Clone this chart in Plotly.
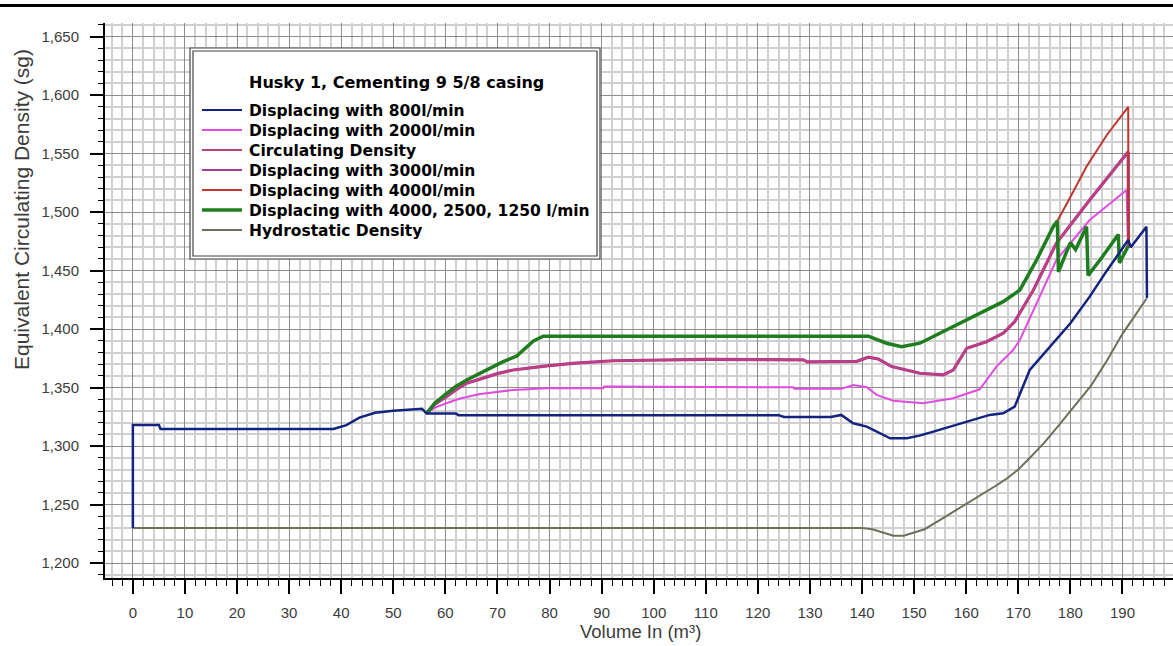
import plotly.graph_objects as go

# Volume (m3) / equivalent circulating density (sg)
vol_800 = [0, 0, 5.0, 5.3, 38.5, 41, 43.5, 46.5, 50, 54.5, 55.5, 56.4, 62, 62.5, 124, 125, 134, 136,
           138.3, 140.9, 143, 145.4, 148.6, 151, 153.7, 159.4, 164.5, 167.1, 169.3, 172.2, 176.7, 180,
           183.7, 187, 191.1, 191.6, 194.6, 194.7]
ecd_800 = [1.230, 1.318, 1.318, 1.3147, 1.3147, 1.318, 1.3244, 1.3286, 1.3303, 1.3315, 1.332, 1.328,
           1.328, 1.3265, 1.3265, 1.325, 1.325, 1.3267, 1.3196, 1.3167, 1.312, 1.3067, 1.3067, 1.309,
           1.3124, 1.3196, 1.3267, 1.3281, 1.3338, 1.3651, 1.388, 1.405, 1.4278, 1.450, 1.4762, 1.470,
           1.4876, 1.4264]

vol_2000 = [56.4, 58, 60.2, 63, 66.7, 70, 73, 79.5, 90.3, 90.5, 126.8, 127, 136, 138.3, 140.9, 142.8,
            146, 151.7, 157.5, 162.6, 165.8, 169, 170.3, 177.3, 183.7, 190.8, 191.1]
ecd_2000 = [1.328, 1.333, 1.3367, 1.341, 1.3446, 1.3465, 1.348, 1.3495, 1.3495, 1.351, 1.3503, 1.349,
            1.349, 1.3523, 1.3503, 1.3438, 1.3389, 1.3367, 1.341, 1.3486, 1.368, 1.3822, 1.3908, 1.459,
            1.4933, 1.519, 1.470]

vol_3000 = [56.4, 58, 60.2, 62, 64.1, 67, 70, 73, 76, 79.5, 85, 92.2, 110, 128.7, 129.5, 139, 141.2,
            143.1, 145.7, 151.1, 155.6, 157.5, 160.1, 163.9, 167.1, 169.3, 172.9, 177.3, 183.7, 191.1,
            191.15]
ecd_3000 = [1.328, 1.336, 1.3423, 1.348, 1.3538, 1.358, 1.362, 1.3651, 1.367, 1.3686, 1.371, 1.373,
            1.3742, 1.3737, 1.372, 1.3725, 1.376, 1.3745, 1.368, 1.3623, 1.361, 1.365, 1.3837, 1.3893,
            1.3965, 1.4064, 1.4335, 1.4734, 1.5104, 1.5517, 1.470]

# circulating density runs on top of the 3000 l/min curve
vol_circ = vol_3000
ecd_circ = ecd_3000

vol_4000 = [56.4, 58, 60.2, 62, 64.1, 66, 68.6, 71, 73.7, 75, 76.9, 78.8, 141.2, 144.7, 147.6, 151.1,
            156.2, 162, 167.1, 170.3, 173.5, 176.7, 177.5, 180, 183.1, 187, 191.1, 191.15]
ecd_4000 = [1.328, 1.337, 1.345, 1.351, 1.3566, 1.361, 1.3666, 1.372, 1.377, 1.382, 1.390, 1.394,
            1.394, 1.388, 1.385, 1.388, 1.3993, 1.412, 1.4235, 1.4335, 1.459, 1.4876, 1.4925, 1.513,
            1.539, 1.566, 1.590, 1.470]

vol_mix = [56.4, 58, 60.2, 62, 64.1, 66, 68.6, 71, 73.7, 75, 76.9, 78.8, 141.2, 144.7, 147.6, 151.1,
           156.2, 162, 167.1, 170.3, 173.5, 176.7, 177.5, 177.7, 180, 181, 183.1, 183.4, 186, 189.2,
           189.4, 191.1]
ecd_mix = [1.328, 1.337, 1.345, 1.351, 1.3566, 1.361, 1.3666, 1.372, 1.377, 1.382, 1.390, 1.394,
           1.394, 1.388, 1.385, 1.388, 1.3993, 1.412, 1.4235, 1.4335, 1.459, 1.4876, 1.4925, 1.449,
           1.474, 1.468, 1.4876, 1.446, 1.461, 1.481, 1.4565, 1.471]

vol_hyd = [0, 140, 142, 144, 146, 148, 150, 152, 155, 158, 160, 163, 166, 168, 170, 172, 175, 178,
           181, 184, 187, 190, 192, 194.6]
ecd_hyd = [1.230, 1.230, 1.229, 1.226, 1.2235, 1.2235, 1.226, 1.229, 1.237, 1.245, 1.251, 1.259,
           1.267, 1.273, 1.280, 1.289, 1.303, 1.319, 1.335, 1.352, 1.373, 1.396, 1.409, 1.426]

legend_title = "Husky 1, Cementing 9 5/8 casing"
names = ["Displacing with 800l/min", "Displacing with 2000l/min", "Circulating Density",
         "Displacing with 3000l/min", "Displacing with 4000l/min",
         "Displacing with 4000, 2500, 1250 l/min", "Hydrostatic Density"]
colors = ["#14237f", "#e04ce0", "#c0407c", "#a8389c", "#c0352e", "#1e7d1e", "#6c705a"]
widths = [2.5, 2, 2, 2, 2, 3.5, 2]

series = [(vol_800, ecd_800), (vol_2000, ecd_2000), (vol_circ, ecd_circ), (vol_3000, ecd_3000),
          (vol_4000, ecd_4000), (vol_mix, ecd_mix), (vol_hyd, ecd_hyd)]

# plot area in pixels
L, R, T, B = 105, 1173, 23, 578


def px_x(p):
    return (p - L) / (R - L)


def px_y(p):
    return (B - p) / (B - T)


fig = go.Figure()
# draw order: hydrostatic, 2000, 3000, circulating, 4000, mixed, 800 on top
for i in [6, 1, 3, 2, 4, 5, 0]:
    v, d = series[i]
    w = widths[i] + (1.2 if i == 3 else 0)
    fig.add_trace(go.Scatter(x=v, y=d, mode="lines", name=names[i],
                             line=dict(color=colors[i], width=w), showlegend=False))

font = "Liberation Sans, Arial, sans-serif"
fig.update_layout(
    width=1173, height=646,
    margin=dict(l=L, r=1173 - R, t=T, b=646 - B),
    paper_bgcolor="white", plot_bgcolor="white",
    separators=",.",
    showlegend=False,
    font=dict(family=font, color="#3c3c3c"),
)
fig.update_xaxes(
    range=[-5.35, 199.7], dtick=10, tick0=0, showgrid=True, gridcolor="#8c8c8c", gridwidth=1.3,
    zeroline=False, showline=True, linecolor="black", linewidth=2,
    ticks="outside", ticklen=14, tickwidth=1.5, tickcolor="black",
    tickfont=dict(size=15, color="#3c3c3c"), ticklabelstandoff=6,
    minor=dict(dtick=2, tick0=0, ticks="outside", ticklen=6, tickwidth=1.2, tickcolor="black",
               showgrid=True, gridcolor="#d0d0d0", gridwidth=1.5),
)
fig.update_yaxes(
    range=[1.1873, 1.6617], dtick=0.05, tick0=0, tickformat=".3f",
    showgrid=True, gridcolor="#8c8c8c", gridwidth=1.3,
    zeroline=False, showline=True, linecolor="black", linewidth=2,
    ticks="outside", ticklen=13, tickwidth=1.5, tickcolor="black",
    tickfont=dict(size=15, color="#3c3c3c"), ticklabelstandoff=8,
    minor=dict(dtick=0.01, tick0=0, ticks="outside", ticklen=5, tickwidth=1.2, tickcolor="black",
               showgrid=True, gridcolor="#d0d0d0", gridwidth=1.5),
)

# axis titles
fig.add_annotation(text="Volume In (m³)", xref="paper", yref="paper", x=px_x(640), y=px_y(632),
                   showarrow=False, xanchor="center", yanchor="middle",
                   font=dict(size=18.5, color="#3c3c3c"))
fig.add_annotation(text="Equivalent Circulating Density (sg)", xref="paper", yref="paper",
                   x=px_x(21), y=px_y(210), textangle=-90, showarrow=False,
                   xanchor="center", yanchor="middle", font=dict(size=21, color="#3c3c3c"))

# page rule at the top
fig.add_shape(type="line", xref="paper", yref="paper", x0=px_x(0), x1=px_x(1173),
              y0=px_y(5.5), y1=px_y(5.5), line=dict(color="black", width=3))

# legend box with double border
bx0, bx1, by0, by1 = 190, 600, 48, 259
fig.add_shape(type="rect", xref="paper", yref="paper", layer="above",
              x0=px_x(bx0), x1=px_x(bx1), y0=px_y(by0), y1=px_y(by1),
              fillcolor="white", line=dict(color="#444444", width=1.2))
fig.add_shape(type="rect", xref="paper", yref="paper", layer="above",
              x0=px_x(bx0 + 3), x1=px_x(bx1 - 3), y0=px_y(by0 + 3), y1=px_y(by1 - 3),
              fillcolor="rgba(0,0,0,0)", line=dict(color="#444444", width=1.2))

lfont = "DejaVu Sans, Verdana, sans-serif"
fig.add_annotation(text="<b>" + legend_title + "</b>", xref="paper", yref="paper",
                   x=px_x(247), y=px_y(82), showarrow=False, xanchor="left", yanchor="middle",
                   font=dict(family=lfont, size=16, color="black"))
for i, nm in enumerate(names):
    yy = 110 + 20 * i
    fig.add_shape(type="line", xref="paper", yref="paper", layer="above",
                  x0=px_x(202), x1=px_x(242), y0=px_y(yy), y1=px_y(yy),
                  line=dict(color=colors[i], width=widths[i] if i != 0 else 2))
    fig.add_annotation(text="<b>" + nm + "</b>", xref="paper", yref="paper",
                       x=px_x(247), y=px_y(yy + 1), showarrow=False, xanchor="left",
                       yanchor="middle", font=dict(family=lfont, size=15.5, color="black"))

# the page's default body margin would shift the figure by 8px
fig.write_html("out.html", config={"displayModeBar": False},
               post_script="document.body.style.margin='0';")
